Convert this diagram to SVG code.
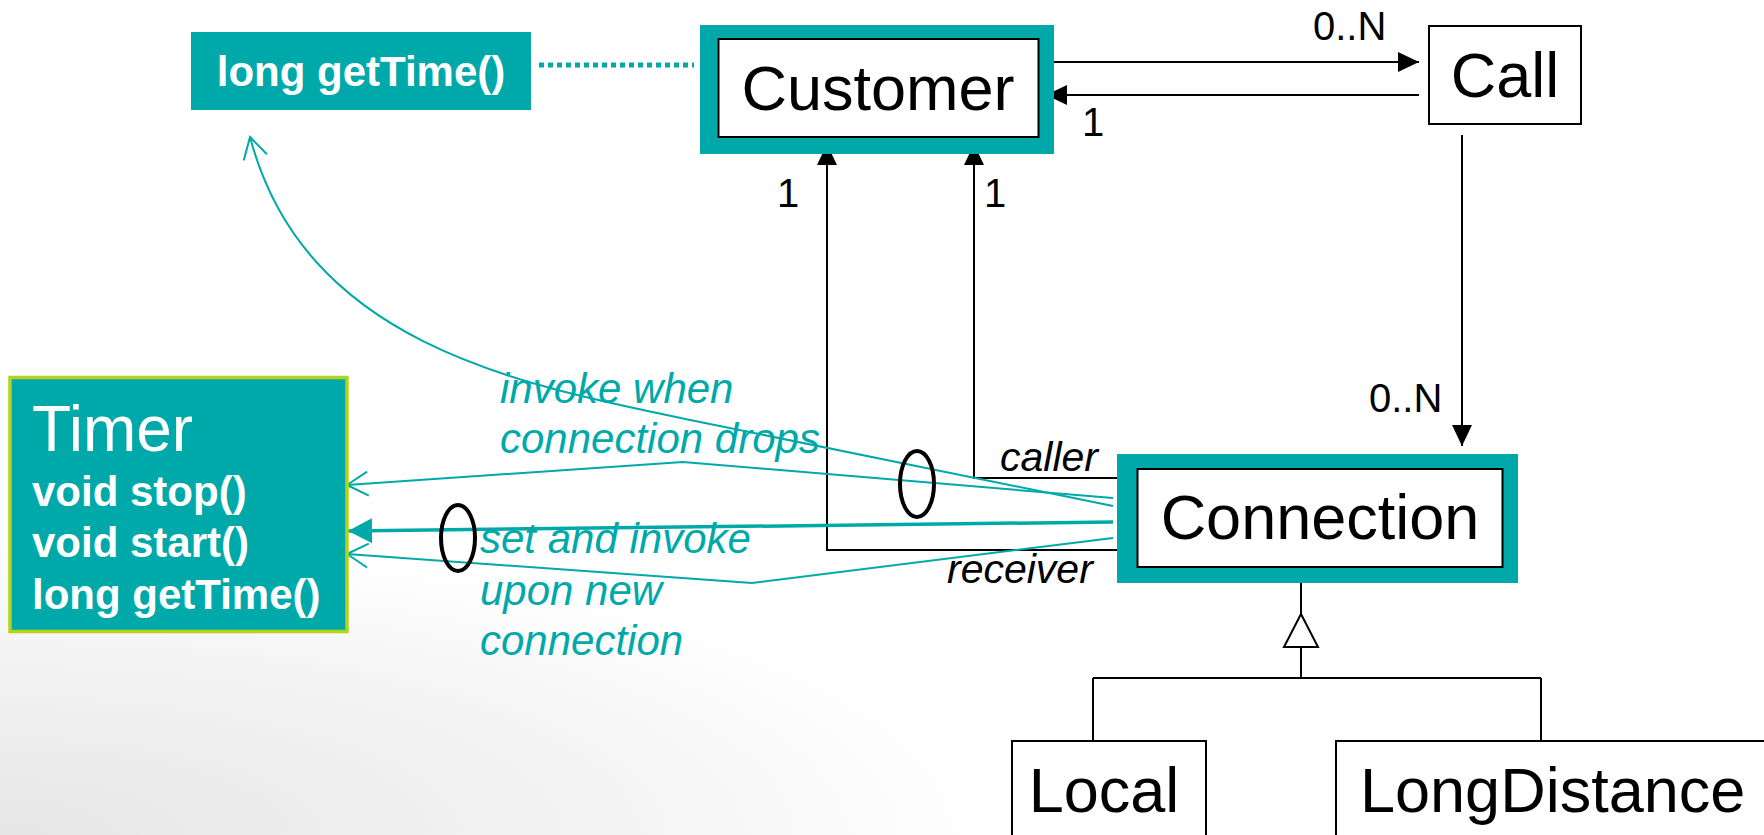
<svg xmlns="http://www.w3.org/2000/svg" width="1764" height="835" viewBox="0 0 1764 835">
  <defs>
    <radialGradient id="bgShade" gradientUnits="userSpaceOnUse" cx="0" cy="835" r="1000" gradientTransform="translate(0,835) scale(1,0.3) translate(0,-835)">
      <stop offset="0" stop-color="#e6e6e6"/>
      <stop offset="0.55" stop-color="#f2f2f2"/>
      <stop offset="1" stop-color="#ffffff"/>
    </radialGradient>
    <!-- filled black association arrowhead -->
    <marker id="headBlack" markerUnits="userSpaceOnUse" markerWidth="21" markerHeight="20" viewBox="0 0 21 20" refX="21" refY="10" orient="auto">
      <path d="M0,0 L21,10 L0,20 z" fill="#000"/>
    </marker>
    <!-- open teal arrowhead for thin call lines -->
    <marker id="headOpen" markerUnits="userSpaceOnUse" markerWidth="30" markerHeight="30" viewBox="-26 -15 30 30" refX="0" refY="0" orient="auto">
      <path d="M-21,-12 L0,0 L-21,12" fill="none" stroke="#00a9a9" stroke-width="2"/>
    </marker>
    <!-- filled teal arrowhead for the thick call line -->
    <marker id="headTeal" markerUnits="userSpaceOnUse" markerWidth="24" markerHeight="25" viewBox="0 0 24 25" refX="24" refY="12.5" orient="auto">
      <path d="M0,0 L24,12.5 L0,25 z" fill="#00a9a9"/>
    </marker>
  </defs>
  <style>
    .cls { font-family: "Liberation Sans", Arial, sans-serif; font-size: 63px; fill: #000; }
    .box { fill: #fff; stroke: #000; stroke-width: 2; }
    .frame { fill: #00a9a9; }
    .mult { font-family: "Liberation Sans", Arial, sans-serif; font-size: 40px; fill: #000; }
    .role { font-family: "Liberation Sans", Arial, sans-serif; font-size: 41px; font-style: italic; fill: #000; }
    .note { font-family: "Liberation Sans", Arial, sans-serif; font-size: 42px; font-style: italic; fill: #00a9a9; }
    .op { font-family: "Liberation Sans", Arial, sans-serif; font-size: 42px; font-weight: bold; fill: #fff; }
    .assoc { fill: none; stroke: #000; stroke-width: 2; }
    .tcall { fill: none; stroke: #00a9a9; stroke-width: 2; }
    .ring { fill: none; stroke: #000; stroke-width: 4; }
  </style>

  <!-- background -->
  <rect x="0" y="0" width="1764" height="835" fill="url(#bgShade)"/>

  <!-- connectors -->
  <g id="connectors">
    <!-- Customer <-> Call -->
    <path class="assoc" d="M1044,62 L1419,62" marker-end="url(#headBlack)"/>
    <path class="assoc" d="M1419,95 L1046,95" marker-end="url(#headBlack)"/>
    <!-- Call -> Connection -->
    <path class="assoc" d="M1462,135 L1462,446" marker-end="url(#headBlack)"/>
    <!-- Connection -> Customer (receiver / caller) -->
    <path class="assoc" d="M1137,550 L827,550 L827,144" marker-end="url(#headBlack)"/>
    <path class="assoc" d="M1137,478 L974,478 L974,144" marker-end="url(#headBlack)"/>
    <!-- generalization -->
    <path class="assoc" d="M1301,567 L1301,614"/>
    <path class="assoc" d="M1301,647 L1301,678 M1093,678 L1541,678 M1093,678 L1093,741 M1541,678 L1541,741"/>
    <polygon points="1301,614 1284,647 1318,647" fill="#fff" stroke="#000" stroke-width="2"/>
    <!-- dotted link between Customer and getTime -->
    <path d="M539,65 L694,65" fill="none" stroke="#00a9a9" stroke-width="5" stroke-dasharray="5 4"/>
    <!-- calls from Connection to Timer -->
    <path class="tcall" d="M1113,506 L700,422 C520,385 305,345 250,137" marker-end="url(#headOpen)"/>
    <path class="tcall" d="M1113,498 L683,462 L347,485" marker-end="url(#headOpen)"/>
    <path d="M1113,522 L348,531" fill="none" stroke="#00a9a9" stroke-width="3.5" marker-end="url(#headTeal)"/>
    <path class="tcall" d="M1113,538 L752,583 L347,554" marker-end="url(#headOpen)"/>
    <!-- join points -->
    <ellipse class="ring" cx="917" cy="484" rx="17" ry="33"/>
    <ellipse class="ring" cx="458" cy="538" rx="17" ry="33"/>
  </g>

  <!-- getTime operation -->
  <g id="getTime">
    <rect class="frame" x="191" y="32" width="340" height="78"/>
    <text class="op" x="361" y="86" text-anchor="middle">long getTime()</text>
  </g>

  <!-- Customer -->
  <g id="customer">
    <rect class="frame" x="700" y="25" width="354" height="129"/>
    <rect class="box" x="718.5" y="39" width="320" height="98"/>
    <text class="cls" x="878" y="110" text-anchor="middle">Customer</text>
  </g>

  <!-- Call -->
  <g id="call">
    <rect class="box" x="1429" y="26" width="152" height="98"/>
    <text class="cls" x="1505" y="97" text-anchor="middle">Call</text>
  </g>

  <!-- Connection -->
  <g id="connection">
    <rect class="frame" x="1117" y="454" width="401" height="129"/>
    <rect class="box" x="1137.5" y="469" width="365" height="98"/>
    <text class="cls" x="1320" y="539" text-anchor="middle">Connection</text>
  </g>

  <!-- Local -->
  <g id="local">
    <rect class="box" x="1012" y="741" width="194" height="120"/>
    <text class="cls" x="1104" y="812" text-anchor="middle">Local</text>
  </g>

  <!-- LongDistance -->
  <g id="longDistance">
    <rect class="box" x="1336" y="741" width="500" height="120"/>
    <text class="cls" x="1360" y="812">LongDistance</text>
  </g>

  <!-- Timer -->
  <g id="timer">
    <rect x="10" y="377.5" width="337" height="254" fill="#00a9a9" stroke="#b2d41a" stroke-width="3.5"/>
    <text x="32" y="451" font-family="Liberation Sans, Arial, sans-serif" font-size="64" fill="#fff">Timer</text>
    <text class="op" x="32" y="506">void stop()</text>
    <text class="op" x="32" y="557">void start()</text>
    <text class="op" x="32" y="609">long getTime()</text>
  </g>

  <!-- labels -->
  <g id="labels">
    <text class="mult" x="1313" y="40">0..N</text>
    <text class="mult" x="1082" y="136">1</text>
    <text class="mult" x="777" y="207">1</text>
    <text class="mult" x="984" y="207">1</text>
    <text class="mult" x="1369" y="412">0..N</text>
    <text class="role" x="1000" y="471">caller</text>
    <text class="role" x="947" y="583">receiver</text>
    <text class="note" x="500" y="403">invoke when</text>
    <text class="note" x="500" y="453">connection drops</text>
    <text class="note" x="480" y="553">set and invoke</text>
    <text class="note" x="480" y="605">upon new</text>
    <text class="note" x="480" y="655">connection</text>
  </g>
</svg>
